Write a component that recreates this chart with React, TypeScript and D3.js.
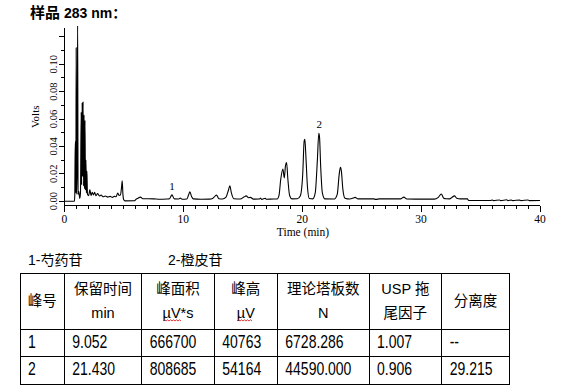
import React from 'react';
import * as d3 from 'd3';

// chromatogram trace: [time (min), volts]
const trace: [number, number][] = [
  [0, 0], [0.85, 0], [0.88, 0.004], [0.92, 0.0435], [0.95, 0.0435], [0.97, 0.006],
  [1.0, 0.112], [1.03, 0.007], [1.08, 0.005], [1.12, 0.135], [1.16, 0.005], [1.22, 0.007],
  [1.3, 0.002], [1.36, 0.006], [1.42, 0.065], [1.46, 0.012], [1.5, 0.072], [1.54, 0.018],
  [1.58, 0.0727], [1.62, 0.011], [1.66, 0.063], [1.7, 0.009], [1.74, 0.059], [1.78, 0.008],
  [1.82, 0.03], [1.86, 0.006], [1.9, 0.022], [1.95, 0.005], [2.05, 0.004], [2.15, 0.0085],
  [2.25, 0.004], [2.35, 0.0065], [2.45, 0.0045], [2.55, 0.0065], [2.65, 0.004], [2.8, 0.0055],
  [2.95, 0.0038], [3.1, 0.0045], [3.25, 0.0032], [3.45, 0.0038], [3.65, 0.003], [3.85, 0.0035],
  [4.05, 0.0028], [4.2, 0.0035], [4.35, 0.0032], [4.5, 0.006], [4.6, 0.0042], [4.72, 0.0045],
  [4.8, 0.009], [4.87, 0.0148], [4.93, 0.005], [5.0, 0.001], [5.1, 0.0002], [5.9, 0.0003],
  [6.0, 0.0012], [6.2, 0.0022], [6.4, 0.003], [6.6, 0.0018], [7.5, 0.0017], [8.0, 0.0014],
  [8.6, 0.0016], [8.85, 0.0018], [9.05, 0.0046], [9.25, 0.0017], [9.6, 0.0016], [9.75, 0.0022],
  [9.9, 0.0014], [10.3, 0.0016], [10.45, 0.0045], [10.56, 0.0068], [10.7, 0.0035], [10.85, 0.0017],
  [11.5, 0.0014], [12.2, 0.0015], [12.5, 0.0022], [12.8, 0.0044], [13.0, 0.0018], [13.3, 0.0016],
  [13.6, 0.003], [13.8, 0.008], [13.92, 0.0112], [14.05, 0.006], [14.25, 0.0018], [14.8, 0.0016],
  [15.1, 0.003], [15.3, 0.0039], [15.5, 0.0025], [15.65, 0.0028], [15.9, 0.0015], [16.4, 0.0016],
  [16.5, 0.0022], [16.6, 0.0013], [16.9, 0.0021], [17.0, 0.0014], [17.6, 0.0016], [17.9, 0.0016],
  [18.05, 0.004], [18.2, 0.016], [18.38, 0.0234], [18.5, 0.017], [18.6, 0.026], [18.69, 0.0282],
  [18.8, 0.016], [18.95, 0.004], [19.15, 0.0017], [19.6, 0.0018], [19.85, 0.004], [20.05, 0.02],
  [20.17, 0.044], [20.23, 0.0452], [20.33, 0.03], [20.45, 0.01], [20.6, 0.002], [20.9, 0.0017],
  [21.1, 0.006], [21.28, 0.03], [21.4, 0.0496], [21.46, 0.047], [21.56, 0.025], [21.7, 0.006],
  [21.9, 0.0017], [22.7, 0.0016], [22.95, 0.005], [23.12, 0.02], [23.22, 0.0248], [23.3, 0.022],
  [23.42, 0.009], [23.6, 0.0022], [24.0, 0.0016], [24.3, 0.0023], [24.45, 0.0028], [24.7, 0.0017],
  [26.0, 0.0017], [26.2, 0.0013], [26.5, 0.0017], [28.3, 0.0017], [28.55, 0.003], [28.8, 0.0016],
  [29.5, 0.0015], [31.1, 0.0015], [31.45, 0.0028], [31.7, 0.0053], [31.9, 0.0022], [32.1, 0.0018],
  [32.4, 0.0017], [32.6, 0.0028], [32.8, 0.0039], [33.0, 0.0022], [33.3, 0.0017], [33.9, 0.0017],
  [34.0, 0.0005], [35.8, 0.0005], [36.0, 0.0009], [36.1, 0.0004], [36.6, 0.0009], [36.7, 0.0004],
  [37.2, 0.001], [37.3, 0.0004], [37.6, 0.0009], [37.7, 0.0004], [38.3, 0.0009], [38.4, 0.0004],
  [39.0, 0.0009], [39.1, 0.0004], [40.0, 0.0005],
];

const peakLabels = ['1', '2'];
const peakTimes = [9.052, 21.43];
const peakVolts = [0.0046, 0.0496];

const xTickLabels = [0, 10, 20, 30, 40];
const yTickLabels = [0, 0.02, 0.04, 0.06, 0.08, 0.1];

const legendItems = ['1-芍药苷', '2-橙皮苷'];

const tableHeader = [
  ['峰号'],
  ['保留时间', 'min'],
  ['峰面积', 'µV*s'],
  ['峰高', 'µV'],
  ['理论塔板数', 'N'],
  ['USP 拖', '尾因子'],
  ['分离度'],
];
const tableRows = [
  ['1', '9.052', '666700', '40763', '6728.286', '1.007', '--'],
  ['2', '21.430', '808685', '54164', '44590.000', '0.906', '29.215'],
];

const W = 580;
const H = 392;
const serif = '"Liberation Serif", "DejaVu Serif", serif';
const sans = '"Liberation Sans", Arial, "Noto Sans CJK SC", sans-serif';

// little red spell-check squiggle under a word
function squiggle(x0: number, x1: number, y: number) {
  let d = `M${x0},${y}`;
  let up = true;
  for (let x = x0 + 1.5; x <= x1; x += 1.5) {
    d += `L${x},${up ? y - 1.2 : y}`;
    up = !up;
  }
  return d;
}

export default function App() {
  const x = d3.scaleLinear().domain([0, 40]).range([64.3, 540]);
  const y = d3.scaleLinear().domain([-0.0033, 0.1265]).range([205.7, 28]);
  const axisY = 205.7;
  const axisX = 64.3;

  const line = d3
    .line<[number, number]>()
    .x((d) => x(d[0]))
    .y((d) => y(d[1]))
    .curve(d3.curveMonotoneX);

  const minorX = d3.range(0, 41, 1);
  const minorY = d3.range(0, 13).map((i) => i / 100);

  // table layout
  const colEdges = [20, 64.3, 141.7, 214.3, 277.3, 369, 441.7, 509.3];
  const rowEdges = [273.3, 329, 356.7, 384];
  const rowBaselines = [348, 375.3];

  return (
    <svg
      width={W}
      height={H}
      style={{ position: 'absolute', left: 0, top: 0, background: '#fff' }}
    >
      <defs>
        <clipPath id="plot">
          <rect x={axisX} y={26} width={480} height={182} />
        </clipPath>
      </defs>

      {/* title */}
      <text x={30} y={17.5} fontFamily={sans} fontWeight="bold" fontSize={14} fill="#000">
        <tspan fontSize={15} fontFamily='"Noto Sans CJK SC", sans-serif'>样品</tspan>
        <tspan> 283 nm</tspan>
        <tspan fontFamily='"Noto Sans CJK SC", sans-serif'>：</tspan>
      </text>

      {/* axes */}
      <g stroke="#000" strokeWidth={1} shapeRendering="crispEdges">
        <line x1={axisX} x2={axisX} y1={28} y2={axisY} />
        <line x1={axisX} x2={540} y1={axisY} y2={axisY} />
        {minorX.map((t) => (
          <line key={'xt' + t} x1={x(t)} x2={x(t)} y1={axisY} y2={axisY + (t % 10 === 0 ? 6 : 3.5)} />
        ))}
        {minorY.map((v, i) => (
          <line key={'yt' + i} x1={axisX - (i % 2 === 0 ? 5 : 3)} x2={axisX} y1={y(v)} y2={y(v)} />
        ))}
      </g>

      {xTickLabels.map((t) => (
        <text key={'xl' + t} x={x(t)} y={223.3} textAnchor="middle" fontFamily={serif} fontSize={11.5}>
          {t}
        </text>
      ))}
      <text x={303} y={236} textAnchor="middle" fontFamily={serif} fontSize={11.5}>
        Time (min)
      </text>

      {yTickLabels.map((v) => (
        <text
          key={'yl' + v}
          transform={`translate(56.5,${y(v)}) rotate(-90)`}
          textAnchor="middle"
          fontFamily={serif}
          fontSize={10.5}
        >
          {v.toFixed(2)}
        </text>
      ))}
      <text transform="translate(38.5,116.7) rotate(-90)" textAnchor="middle" fontFamily={serif} fontSize={11}>
        Volts
      </text>

      {/* trace */}
      <path d={line(trace) || ''} fill="none" stroke="#000" strokeWidth={1.1} clipPath="url(#plot)" />

      {peakLabels.map((lab, i) => (
        <text
          key={'pk' + lab}
          x={x(peakTimes[i])}
          y={y(peakVolts[i]) - 5}
          textAnchor="middle"
          fontFamily={serif}
          fontSize={11}
        >
          {lab}
        </text>
      ))}

      {/* compound legend */}
      {legendItems.map((s, i) => (
        <text key={s} x={i === 0 ? 28 : 168} y={265} fontFamily={sans} fontSize={14}>
          {s}
        </text>
      ))}

      {/* table grid */}
      <g stroke="#000" strokeWidth={1} shapeRendering="crispEdges">
        <rect x={colEdges[0]} y={rowEdges[0]} width={colEdges[7] - colEdges[0]} height={rowEdges[3] - rowEdges[0]} fill="none" />
        {rowEdges.slice(1, 3).map((ry) => (
          <line key={'r' + ry} x1={colEdges[0]} x2={colEdges[7]} y1={ry} y2={ry} />
        ))}
        {colEdges.slice(1, 7).map((cx) => (
          <line key={'c' + cx} x1={cx} x2={cx} y1={rowEdges[0]} y2={rowEdges[3]} />
        ))}
      </g>

      {tableHeader.map((lines, i) => {
        const cx = (colEdges[i] + colEdges[i + 1]) / 2;
        const ys = lines.length === 1 ? [306] : [294, 317.5];
        return lines.map((s, j) => (
          <text key={'h' + i + j} x={cx} y={ys[j]} textAnchor="middle" fontFamily={sans} fontSize={14.5}>
            {s}
          </text>
        ));
      })}
      <g stroke="#e02020" strokeWidth={0.9} fill="none">
        <path d={squiggle(163, 182, 321)} />
        <path d={squiggle(237, 253, 321)} />
      </g>

      {tableRows.map((row, r) =>
        row.map((s, c) => (
          <text
            key={'d' + r + c}
            transform={`translate(${colEdges[c] + 8},${rowBaselines[r]}) scale(1,1.25)`}
            fontFamily={sans}
            fontSize={14}
          >
            {s}
          </text>
        ))
      )}
    </svg>
  );
}
